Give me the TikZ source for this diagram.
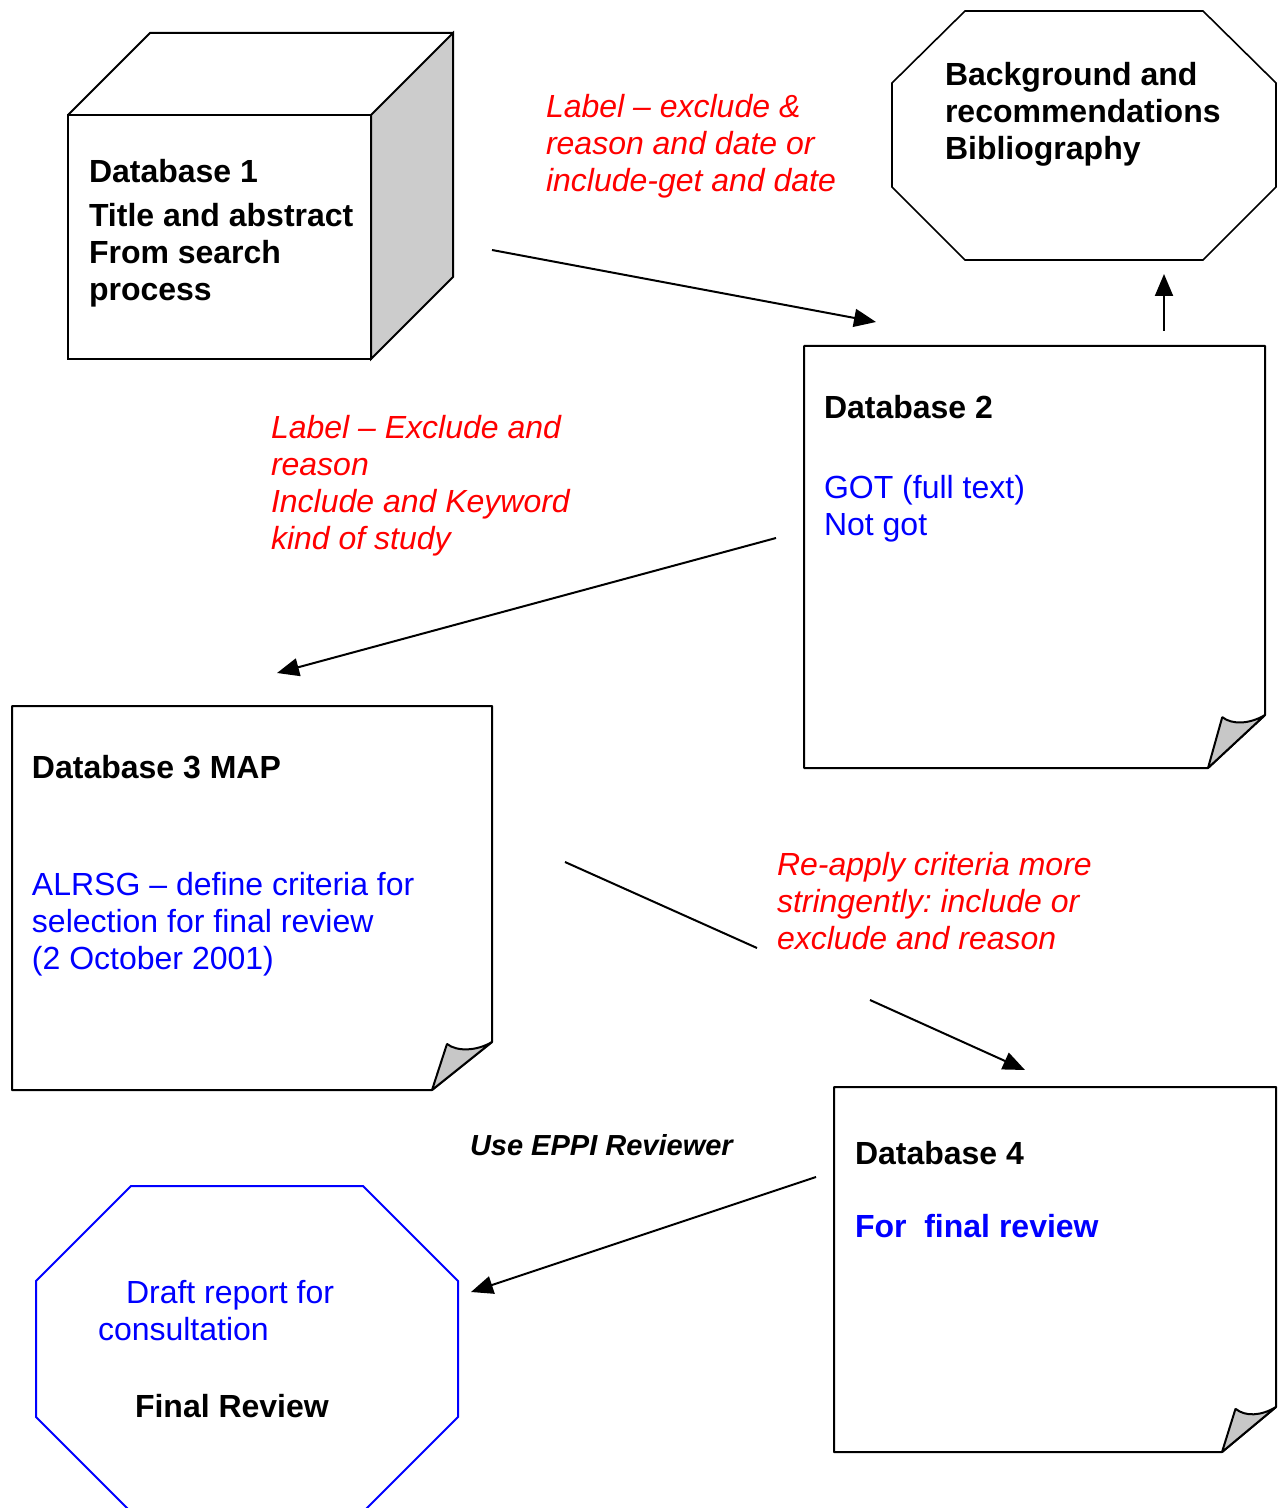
\documentclass[tikz,border=0pt]{standalone}
\usepackage{fontspec}
\setmainfont{Liberation Sans}
\usetikzlibrary{arrows.meta,positioning}
\newcommand{\dbfont}{\fontsize{16}{18.5}\selectfont}
\definecolor{sidegray}{gray}{0.8}
\definecolor{foldgray}{gray}{0.78}
\frenchspacing

\begin{document}
\begin{tikzpicture}[x=0.5pt,y=-0.5pt,line width=1pt,
	>={Triangle[length=11pt,width=9pt]}]
	\tikzstyle{head}=[font=\dbfont\bfseries,align=left,anchor=north west,inner sep=0pt]
	\tikzstyle{note}=[font=\dbfont,text=blue,align=left,anchor=north west,inner sep=0pt]
	\tikzstyle{reason}=[font=\dbfont\itshape,text=red,align=left,anchor=north west,inner sep=0pt]
	\tikzstyle{flow}=[->,line width=1pt]
	\useasboundingbox (0,0) rectangle (1283,1508);

	% cube: database 1
	\filldraw[fill=sidegray] (371,115) -- (453,33) -- (453,277) -- (371,359) -- cycle;
	\draw (68,115) -- (150,33) -- (453,33);
	\draw (68,115) rectangle (371,359);

	% pages with folded corner: databases 2, 3 and 4
	\foreach \xa/\ya/\xb/\yb/\fx/\fy in {804/346/1265/768/57/53,
		12/706/492/1090/60/48, 834/1087/1276/1452/54/45}{
		\draw[line join=bevel] (\xa,\ya) -- (\xb,\ya) -- (\xb,\yb-\fy) -- (\xb-\fx,\yb) -- (\xa,\yb) -- cycle;
		\filldraw[fill=foldgray,line join=bevel] (\xb-\fx,\yb) -- ++(0.25*\fx,-0.96*\fy)
			.. controls +(10,8) and +(-15,9) .. (\xb,\yb-\fy) -- cycle;
	}

	% octagons
	\draw[line width=0.8pt] (965,11) -- (1203,11) -- (1276,83) -- (1276,187) -- (1203,260)
		-- (965,260) -- (892,187) -- (892,83) -- cycle;
	\draw[blue] (131,1186) -- (363,1186) -- (458,1281) -- (458,1417) -- (363,1512)
		-- (131,1512) -- (36,1417) -- (36,1281) -- cycle;

	% texts
	\node[head] (db1head) at (88,158) {Database 1};
	\node[head] (db1body) [below right=9.5pt and 0pt of db1head.south west]
		{Title and abstract\\From search\\process};
	\node[head] (bghead) at (944,61) {Background and\\recommendations\\Bibliography};
	\node[head] (db2head) at (823,394) {Database 2};
	\node[note] (db2body) [below right=27.5pt and 0pt of db2head.south west]
		{GOT (full text)\\Not got};
	\node[head] (db3head) at (31,754) {Database 3 MAP};
	\node[note] (db3body) [below right=46pt and 0pt of db3head.south west]
		{ALRSG -- define criteria for\\selection for final review\\(2 October 2001)};
	\node[head] (db4head) at (854,1140) {Database 4};
	\node[head,text=blue] (db4body) [below right=24pt and 0pt of db4head.south west]
		{For\ \ final review};
	\node[note] (draft) at (97,1279) {\hspace*{14pt}Draft report for\\consultation};
	\node[head] (final) at (134,1393) {Final Review};

	\node[reason] (lbl1) at (545,93) {Label -- exclude \&\\reason and date or\\include-get and date};
	\node[reason] (lbl2) at (270,414) {Label -- Exclude and\\reason\\Include and Keyword\\kind of study};
	\node[reason] (lbl3) at (776,851) {Re-apply criteria more\\stringently: include or\\exclude and reason};
	\node[font=\fontsize{14.5}{17}\selectfont\bfseries\itshape,anchor=north west,inner sep=0pt]
		(eppi) at (469,1133) {Use EPPI Reviewer};

	% connectors
	\coordinate (a1s) at (492,250);   \coordinate (a1e) at (876,322);
	\coordinate (a2s) at (776,538);   \coordinate (a2e) at (277,673);
	\coordinate (a3s) at (1164,331);  \coordinate (a3e) at (1164,274);
	\coordinate (a4s) at (565,862);   \coordinate (a4m) at (757,948);
	\coordinate (a4n) at (870,1000);  \coordinate (a4e) at (1025,1070);
	\coordinate (a5s) at (816,1177);  \coordinate (a5e) at (471,1292);

	\draw[flow] (a1s) -- (a1e);
	\draw[flow] (a2s) -- (a2e);
	\draw[flow] (a3s) -- (a3e);
	\draw (a4s) -- (a4m);
	\draw[flow] (a4n) -- (a4e);
	\draw[flow] (a5s) -- (a5e);
\end{tikzpicture}
\end{document}
